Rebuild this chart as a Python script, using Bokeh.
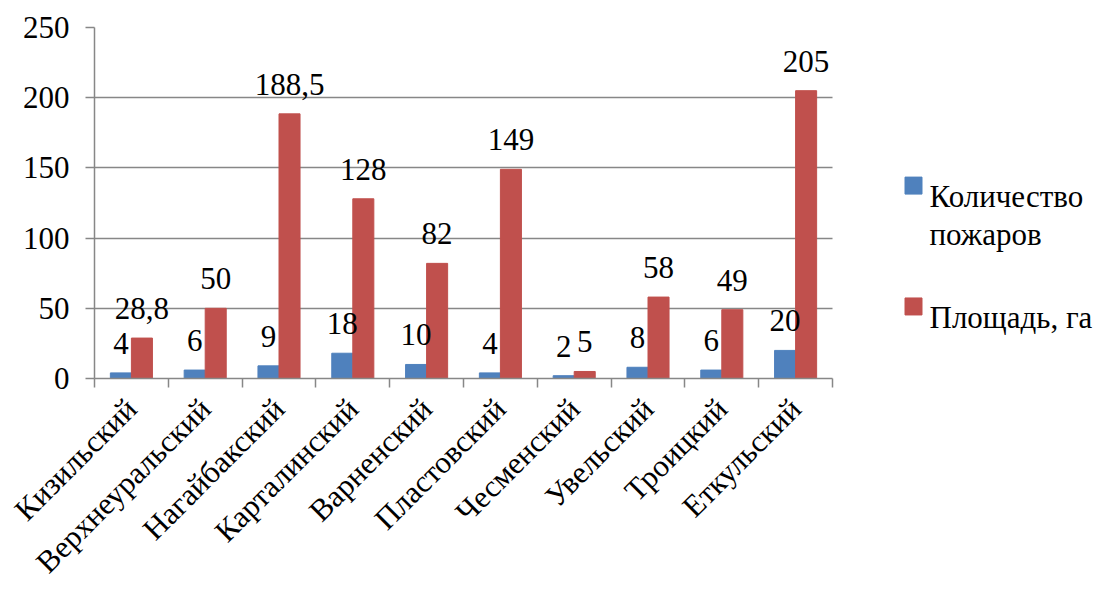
import math

from bokeh.core.properties import value
from bokeh.embed import file_html
from bokeh.models import ColumnDataSource, FixedTicker, LabelSet, Range1d
from bokeh.plotting import figure
from bokeh.resources import INLINE

# Districts and the two series
districts = ["Кизильский", "Верхнеуральский", "Нагайбакский", "Карталинский",
             "Варненский", "Пластовский", "Чесменский", "Увельский",
             "Троицкий", "Еткульский"]
fires = [4, 6, 9, 18, 10, 4, 2, 8, 6, 20]
area = [28.8, 50, 188.5, 128, 82, 149, 5, 58, 49, 205]
y_ticks = [0, 50, 100, 150, 200, 250]

series_lines = [["Количество", "пожаров"], ["Площадь, га"]]

FONT = "Times New Roman"
FS = "31px"
GRID = "#878787"
BLUE = "#4F81BD"
RED = "#C0504D"
series_colors = [BLUE, RED]

BAR_W = 0.285
Y_MAX = 250

# layout (pixels)
W, H = 1099, 595
LEFT, TOP, BOTTOM, RIGHT = 94, 27, 205, 2
AXIS_PX = 738                 # horizontal extent of the category axis
FRAME_H = H - TOP - BOTTOM
frame_w = W - LEFT - RIGHT
n = len(districts)
x_end = n * frame_w / AXIS_PX   # room on the right for the key


def px_x(px):
    return (px - LEFT) * n / AXIS_PX


def px_y(py):
    return (TOP + FRAME_H - py) * Y_MAX / FRAME_H


def fmt(v):
    return f"{v:g}".replace(".", ",")


centers = [i + 0.5 for i in range(n)]
src = ColumnDataSource(dict(
    xb=[c - BAR_W / 2 for c in centers],
    xr=[c + BAR_W / 2 for c in centers],
    fires=fires,
    area=area,
    fires_txt=[fmt(v) for v in fires],
    area_txt=[fmt(v) for v in area],
))

p = figure(width=W, height=H,
           x_range=Range1d(0, x_end), y_range=Range1d(0, Y_MAX),
           output_backend="svg", toolbar_location=None,
           min_border_left=LEFT, min_border_right=RIGHT,
           min_border_top=TOP, min_border_bottom=BOTTOM)
p.outline_line_color = None
p.background_fill_color = "white"
p.border_fill_color = "white"

p.vbar(x="xb", top="fires", width=BAR_W, source=src,
       fill_color=BLUE, line_color=BLUE)
p.vbar(x="xr", top="area", width=BAR_W, source=src,
       fill_color=RED, line_color=RED)

# value labels above the bars
for xcol, ycol, tcol in (("xb", "fires", "fires_txt"), ("xr", "area", "area_txt")):
    p.add_layout(LabelSet(x=xcol, y=ycol, text=tcol, source=src,
                          y_offset=19, text_align="center",
                          text_baseline="alphabetic",
                          text_font=value(FONT), text_font_size=FS,
                          text_color="black"))

# y axis
p.yaxis.ticker = FixedTicker(ticks=y_ticks)
p.yaxis.major_tick_out = 9
p.yaxis.major_tick_in = 0
p.yaxis.minor_tick_out = 0
p.yaxis.minor_tick_in = 0
p.yaxis.major_tick_line_color = GRID
p.yaxis.major_tick_line_width = 1.5
p.yaxis.axis_line_color = GRID
p.yaxis.axis_line_width = 1.5
p.yaxis.major_label_standoff = 16
p.yaxis.major_label_text_font = FONT
p.yaxis.major_label_text_font_size = FS
p.yaxis.major_label_text_color = "black"

# x axis: labels at category centres, tick marks on category boundaries
p.xaxis.bounds = (0, n)
p.xaxis.ticker = FixedTicker(ticks=centers, minor_ticks=list(range(n + 1)))
p.xaxis.major_label_overrides = {c: d for c, d in zip(centers, districts)}
p.xaxis.major_tick_line_color = None
p.xaxis.major_tick_out = 0
p.xaxis.major_tick_in = 0
p.xaxis.minor_tick_out = 9
p.xaxis.minor_tick_in = 0
p.xaxis.minor_tick_line_color = GRID
p.xaxis.minor_tick_line_width = 1.5
p.xaxis.axis_line_color = GRID
p.xaxis.axis_line_width = 1.5
p.xaxis.major_label_orientation = math.pi / 4
p.xaxis.major_label_standoff = 16
p.xaxis.major_label_text_font = FONT
p.xaxis.major_label_text_font_size = FS
p.xaxis.major_label_text_color = "black"

p.xgrid.grid_line_color = None
p.ygrid.grid_line_color = GRID
p.ygrid.grid_line_width = 1.5
p.ygrid.ticker = FixedTicker(ticks=y_ticks)
p.ygrid.cross_bounds = (0, n)

# key to the right of the bars: swatch + (possibly wrapped) series name
swatch_tops = [182, 307]      # px
line_step = 39                # px between wrapped lines
key_x, key_y, key_c = [], [], []
txt_x, txt_y, txt = [], [], []
for top, lines, col in zip(swatch_tops, series_lines, series_colors):
    key_x.append(px_x(913))
    key_y.append(px_y(top + 8.5))
    key_c.append(col)
    for k, line in enumerate(lines):
        txt_x.append(px_x(929))
        txt_y.append(px_y(top + 20 + k * line_step))
        txt.append(line)

p.rect(x=key_x, y=key_y, width=17, height=17, width_units="screen",
       height_units="screen", fill_color=key_c, line_color=key_c)
p.text(x=txt_x, y=txt_y, text=txt, text_font=value(FONT),
       text_font_size=FS, text_color="black", text_baseline="alphabetic",
       text_align="left")

open("out.html", "w").write(file_html(p, INLINE))
